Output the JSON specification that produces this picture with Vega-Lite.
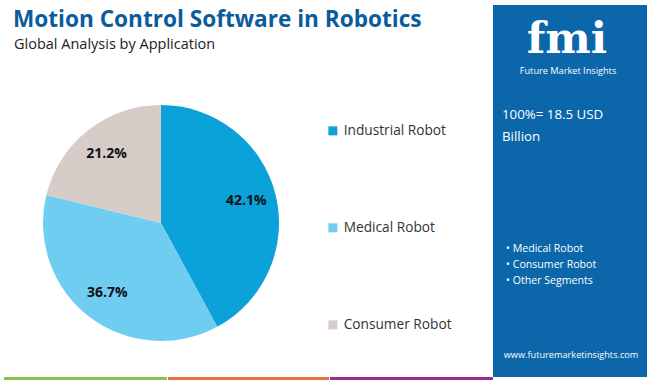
{
  "$schema": "https://vega.github.io/schema/vega-lite/v6.json",
  "background": "white",
  "width": 650,
  "height": 380,
  "autosize": {"type": "fit", "contains": "padding"},
  "padding": 0,
  "config": {"view": {"stroke": null}, "font": "Open Sans"},
  "layer": [
    {
      "data": {"values": [{}]},
      "layer": [
        {"mark": {"type": "rule", "x": 1, "y": 0, "y2": 380, "color": "#d9d9d9", "strokeWidth": 2}, "encoding": {}},
        {"mark": {"type": "text", "text": "Motion Control Software in Robotics", "x": 12, "y": 25.5, "align": "left", "baseline": "alphabetic", "font": "Open Sans", "fontSize": 22.6, "fontWeight": "bold", "color": "#0b5c9c"}},
        {"mark": {"type": "text", "text": "Global Analysis by Application", "x": 13, "y": 48.3, "align": "left", "baseline": "alphabetic", "font": "Open Sans", "fontSize": 14.5, "color": "#222222"}},
        {"mark": {"type": "rule", "x": 5, "x2": 492, "y": 75, "color": "#3a8ccc", "strokeWidth": 2}, "encoding": {}},
        {"mark": {"type": "rect", "x": 3, "x2": 166, "y": 376, "y2": 380, "color": "#8cc152"}},
        {"mark": {"type": "rect", "x": 167, "x2": 328, "y": 376, "y2": 380, "color": "#e8703a"}},
        {"mark": {"type": "rect", "x": 329, "x2": 492, "y": 376, "y2": 380, "color": "#9b2c8f"}},
        {"mark": {"type": "rect", "x": 492, "x2": 646, "y": 4, "y2": 376, "color": "#0b66aa"}},
        {"mark": {"type": "text", "text": "fmi", "x": 566, "y": 52, "align": "center", "baseline": "alphabetic", "font": "DejaVu Serif", "fontWeight": "bold", "fontSize": 43, "color": "white"}},
        {"mark": {"type": "text", "text": "Future Market Insights", "x": 567, "y": 66, "align": "center", "baseline": "top", "font": "Open Sans", "fontSize": 9.2, "color": "white"}},
        {"mark": {"type": "text", "text": ["100%= 18.5 USD", "Billion"], "x": 501, "y": 118, "align": "left", "baseline": "alphabetic", "font": "Open Sans", "fontSize": 13.3, "lineHeight": 22, "color": "white"}},
        {"mark": {"type": "rule", "x": 500, "x2": 638, "y": 174, "color": "#b7d3ec", "strokeWidth": 1.5}, "encoding": {}},
        {"mark": {"type": "text", "text": ["• Medical Robot", "• Consumer Robot", "• Other Segments"], "x": 505, "y": 248, "align": "left", "baseline": "middle", "font": "Open Sans", "fontSize": 10.6, "lineHeight": 16, "color": "white"}},
        {"mark": {"type": "text", "text": "www.futuremarketinsights.com", "x": 570, "y": 354, "align": "center", "baseline": "middle", "font": "Open Sans", "fontSize": 9.2, "color": "white"}}
      ]
    },
    {
      "data": {"values": [
        {"segment": "Industrial Robot", "share": 42.1, "label": "42.1%", "idx": 1},
        {"segment": "Medical Robot", "share": 36.7, "label": "36.7%", "idx": 2},
        {"segment": "Consumer Robot", "share": 21.2, "label": "21.2%", "idx": 3}
      ]},
      "encoding": {
        "theta": {"field": "share", "type": "quantitative", "stack": true},
        "order": {"field": "idx", "type": "quantitative"}
      },
      "layer": [
        {
          "mark": {"type": "arc", "x": 160, "y": 222, "outerRadius": 118},
          "encoding": {
            "color": {
              "field": "segment",
              "type": "nominal",
              "scale": {"domain": ["Industrial Robot", "Medical Robot", "Consumer Robot"], "range": ["#0ba1d9", "#6fcdf2", "#d6ccc8"]},
              "legend": {
                "orient": "none",
                "legendX": 325,
                "legendY": 123,
                "title": null,
                "symbolType": "square",
                "symbolSize": 81,
                "symbolStrokeWidth": 0,
                "labelFont": "Open Sans",
                "labelFontSize": 13.7,
                "labelColor": "#333333",
                "labelOffset": 4,
                "rowPadding": 82
              }
            }
          }
        },
        {
          "mark": {"type": "text", "x": 160, "y": 222, "radius": 88, "font": "Open Sans", "fontSize": 14, "fontWeight": "bold", "color": "#111111"},
          "encoding": {"text": {"field": "label"}}
        }
      ]
    }
  ]
}
